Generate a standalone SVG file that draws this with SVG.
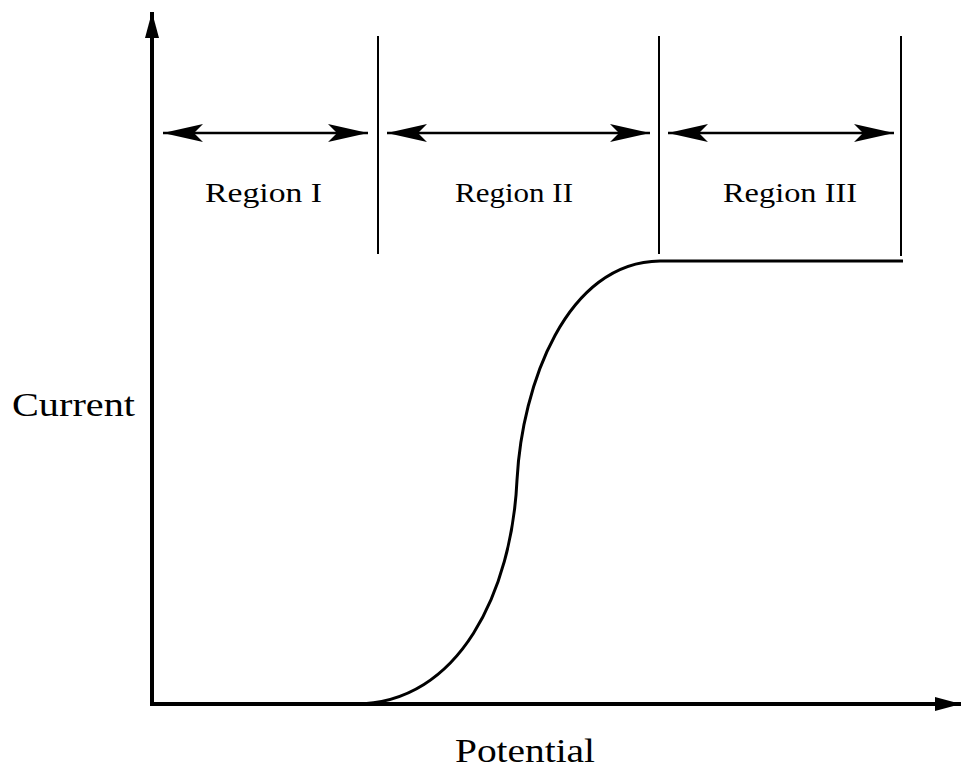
<svg xmlns="http://www.w3.org/2000/svg" width="961" height="768" viewBox="0 0 961 768">
<style>
.lbl{font-family:"Liberation Serif","DejaVu Serif",serif;fill:#000}
.reg{font-size:28px}
.axl{font-size:33px}
.div{stroke:#000;stroke-width:2;fill:none}
.dim{stroke:#000;stroke-width:2.5;fill:none}
.ax{stroke:#000;stroke-width:4;fill:none}
</style>
<defs>
<marker id="dh" viewBox="0 0 40 18" refX="40" refY="9" markerWidth="40" markerHeight="18" markerUnits="userSpaceOnUse" orient="auto-start-reverse">
<path d="M0,0 L40,9 L0,18 L9,9 Z" fill="#000"/>
</marker>
<marker id="ah" viewBox="0 0 26 14" refX="26" refY="7" markerWidth="26" markerHeight="14" markerUnits="userSpaceOnUse" orient="auto">
<path d="M0,0 L26,7 L0,14 Z" fill="#000"/>
</marker>
</defs>
<g id="axes">
<line class="ax" x1="152" y1="706" x2="152" y2="12" marker-end="url(#ah)"/>
<line class="ax" x1="150" y1="704" x2="961" y2="704" marker-end="url(#ah)"/>
</g>
<g id="dividers">
<line class="div" x1="378" y1="36" x2="378" y2="254"/>
<line class="div" x1="659" y1="36" x2="659" y2="254"/>
<line class="div" x1="901" y1="36" x2="901" y2="256"/>
</g>
<g id="connectors">
<line class="dim" x1="163" y1="133" x2="368" y2="133" marker-start="url(#dh)" marker-end="url(#dh)"/>
<line class="dim" x1="387" y1="133" x2="650" y2="133" marker-start="url(#dh)" marker-end="url(#dh)"/>
<line class="dim" x1="668" y1="133" x2="894" y2="133" marker-start="url(#dh)" marker-end="url(#dh)"/>
</g>
<g id="curve">
<path d="M355,704 C460,704 512,590 517,480 C522,385 566,262 660,261 L903,261" stroke="#000" stroke-width="3" fill="none"/>
</g>
<g id="region1"><text class="lbl reg" x="205" y="202" textLength="117" lengthAdjust="spacingAndGlyphs">Region I</text></g>
<g id="region2"><text class="lbl reg" x="455" y="202" textLength="118" lengthAdjust="spacingAndGlyphs">Region II</text></g>
<g id="region3"><text class="lbl reg" x="723" y="202" textLength="134" lengthAdjust="spacingAndGlyphs">Region III</text></g>
<g id="ylabel"><text class="lbl axl" x="12" y="416" textLength="123" lengthAdjust="spacingAndGlyphs">Current</text></g>
<g id="xlabel"><text class="lbl axl" x="455" y="762" textLength="140" lengthAdjust="spacingAndGlyphs">Potential</text></g>
</svg>
